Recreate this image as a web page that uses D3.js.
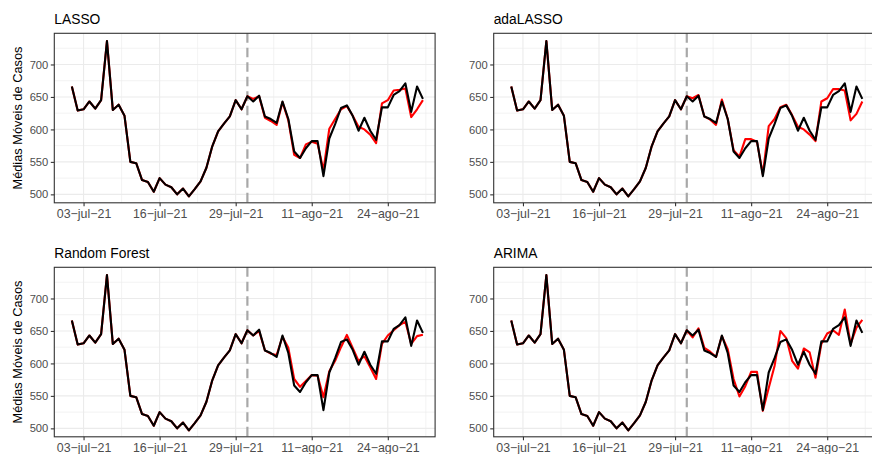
<!DOCTYPE html>
<html>
<head>
<meta charset="utf-8">
<script src="https://cdn.jsdelivr.net/npm/d3@7"></script>
<style>
  body { margin: 0; background: #fff; }
  svg { display: block; font-family: "Liberation Sans", Arial, sans-serif; }
</style>
</head>
<body>
<svg id="chart" width="872" height="454"></svg>
<script>
// Daily moving average of cases, 01-jul-21 .. 30-ago-21
const startDate = "2021-07-01";
const cutoffDate = "2021-07-31";
const observed = [
  666, 629, 631, 643, 632, 645, 736, 630, 638, 621,
  550, 548, 522, 519, 504, 525, 515, 511, 500, 509,
  497, 508, 520, 541, 574, 597, 609, 620, 645, 631,
  651,
  643, 652, 620, 616, 610, 643, 616, 566, 556, 571,
  582, 582, 528, 586, 608, 633, 637, 621, 598, 618,
  598, 584, 634, 634, 653, 659, 671, 627, 666, 647
];

// Model forecasts from the cutoff (31-jul-21) to 30-ago-21
const lassoForecast = [
  651, 647, 651, 618, 613, 607, 642, 614, 561, 556,
  577, 581, 578, 537, 601, 616, 631, 636, 621, 604,
  600, 592, 579, 640, 645, 660, 661, 663, 619, 631, 645
];
const adaLassoForecast = [
  651, 648, 653, 620, 615, 607, 646, 616, 568, 558,
  585, 585, 581, 531, 605, 616, 634, 638, 622, 604,
  600, 592, 582, 643, 648, 662, 662, 660, 614, 624, 643
];
const randomForestForecast = [
  651, 643, 650, 620, 615, 613, 641, 624, 576, 564,
  573, 582, 581, 548, 588, 604, 625, 644, 624, 604,
  611, 594, 576, 630, 643, 651, 659, 664, 630, 642, 644
];
const arimaForecast = [
  651, 640, 654, 624, 618, 610, 642, 622, 576, 549,
  565, 587, 587, 527, 562, 596, 650, 639, 604, 592,
  623, 617, 578, 630, 646, 651, 644, 683, 630, 655, 667
];

const panelNames = ["LASSO", "adaLASSO", "Random Forest", "ARIMA"];
const panelForecasts = [lassoForecast, adaLassoForecast, randomForestForecast, arimaForecast];

const tickDates = ["2021-07-03", "2021-07-16", "2021-07-29", "2021-08-11", "2021-08-24"];
const tickLabels = ["03\u2212jul\u221221", "16\u2212jul\u221221", "29\u2212jul\u221221", "11\u2212ago\u221221", "24\u2212ago\u221221"];
const yTicks = [500, 550, 600, 650, 700];
const yMinorTicks = [525, 575, 625, 675, 725];
const yTitle = "Médias Móveis de Casos";

const parse = d3.timeParse("%Y-%m-%d");
const t0 = parse(startDate);
const cutoff = parse(cutoffDate);
const dates = observed.map((_, i) => d3.timeDay.offset(t0, i));
const cutIndex = dates.findIndex(d => +d === +cutoff);

const ticks = tickDates.map(parse);
// minor grid sits halfway between major date breaks
const minorX = ticks.map(d => d3.timeHour.offset(d, 13 * 12));

const svg = d3.select("#chart");
const panelW = 380.8, panelH = 169.5;
const cols = [54.3, 493.7], rows = [33.3, 267.3];

const x = d3.scaleTime()
  .domain([d3.timeDay.offset(t0, -3), d3.timeHour.offset(dates[dates.length - 1], 50)])
  .range([0, panelW]);
const y = d3.scaleLinear().domain([487, 748]).range([panelH, 0]);

panelNames.forEach((name, p) => {
  const col = p % 2, row = Math.floor(p / 2);
  const g = svg.append("g").attr("transform", `translate(${cols[col]},${rows[row]})`);

  // grid
  const grid = g.append("g");
  grid.selectAll(".ymin").data(yMinorTicks).join("line")
    .attr("x1", 0).attr("x2", panelW)
    .attr("y1", d => y(d)).attr("y2", d => y(d))
    .attr("stroke", "#EBEBEB").attr("stroke-width", 0.6);
  grid.selectAll(".xmin").data(minorX.filter(d => x(d) < panelW)).join("line")
    .attr("y1", 0).attr("y2", panelH)
    .attr("x1", d => x(d)).attr("x2", d => x(d))
    .attr("stroke", "#EBEBEB").attr("stroke-width", 0.6);
  grid.selectAll(".ymaj").data(yTicks).join("line")
    .attr("x1", 0).attr("x2", panelW)
    .attr("y1", d => y(d)).attr("y2", d => y(d))
    .attr("stroke", "#EBEBEB").attr("stroke-width", 1.1);
  grid.selectAll(".xmaj").data(ticks).join("line")
    .attr("y1", 0).attr("y2", panelH)
    .attr("x1", d => x(d)).attr("x2", d => x(d))
    .attr("stroke", "#EBEBEB").attr("stroke-width", 1.1);

  // cutoff marker
  g.append("line")
    .attr("x1", x(cutoff)).attr("x2", x(cutoff))
    .attr("y1", 0).attr("y2", panelH)
    .attr("stroke", "#A8A8A8").attr("stroke-width", 2.2)
    .attr("stroke-dasharray", "9.5,5");

  const line = d3.line().x(d => x(d.date)).y(d => y(d.value));
  const forecast = panelForecasts[p];
  const predicted = dates.map((d, i) => ({
    date: d,
    value: i < cutIndex ? observed[i] : forecast[i - cutIndex]
  }));
  const actual = dates.map((d, i) => ({ date: d, value: observed[i] }));

  g.append("path").datum(predicted).attr("d", line)
    .attr("fill", "none").attr("stroke", "#FF0000").attr("stroke-width", 2.1)
    .attr("stroke-linejoin", "round");
  g.append("path").datum(actual).attr("d", line)
    .attr("fill", "none").attr("stroke", "#000000").attr("stroke-width", 2.1)
    .attr("stroke-linejoin", "round");

  // border
  g.append("rect").attr("width", panelW).attr("height", panelH)
    .attr("fill", "none").attr("stroke", "#333333").attr("stroke-width", 1.1);

  // axes
  const xAxis = d3.axisBottom(x).tickValues(ticks)
    .tickFormat((d, i) => tickLabels[i]).tickSize(3.5).tickPadding(2.5);
  const xa = g.append("g").attr("transform", `translate(0,${panelH})`).call(xAxis);
  const yAxis = d3.axisLeft(y).tickValues(yTicks).tickSize(3.5).tickPadding(2.5);
  const ya = g.append("g").call(yAxis);
  [xa, ya].forEach(a => {
    a.select(".domain").remove();
    a.selectAll(".tick line").attr("stroke", "#333333").attr("stroke-width", 1.1);
    a.selectAll(".tick text").attr("fill", "#4D4D4D")
      .style("font-family", "'Liberation Sans', Arial, sans-serif");
  });
  xa.selectAll(".tick text").style("font-size", "12.4px");
  ya.selectAll(".tick text").style("font-size", "11.2px");

  // title
  g.append("text").attr("x", 0).attr("y", -9)
    .style("font-size", "13.8px").attr("fill", "#000")
    .text(name);

  if (col === 0) {
    svg.append("text")
      .attr("transform", `translate(22,${rows[row] + panelH / 2}) rotate(-90)`)
      .attr("text-anchor", "middle")
      .style("font-size", "12.8px").attr("fill", "#000")
      .text(yTitle);
  }
});
</script>
</body>
</html>
